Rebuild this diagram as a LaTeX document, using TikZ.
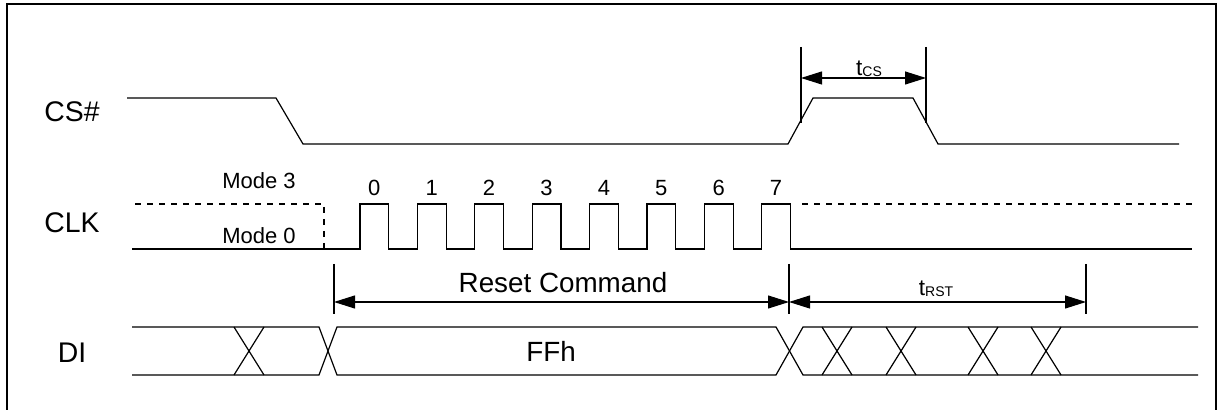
\documentclass[tikz,border=0pt]{standalone}
\usepackage{fontspec}
\setmainfont{Liberation Sans}
\usetikzlibrary{arrows.meta}
\tikzset{
  sig/.style={line width=.6pt,draw=black},
  dimarr/.style={{Triangle[length=10.5pt,width=6.5pt]}-{Triangle[length=10.5pt,width=6.5pt]},line width=.55pt},
  dimtick/.style={line width=.55pt},
  siglabel/.style={font=\fontsize{14.2}{16}\selectfont,inner sep=0},
  small/.style={font=\fontsize{11}{13}\selectfont,inner sep=0},
  cmdlabel/.style={font=\fontsize{13.9}{16}\selectfont,inner sep=0},
  tlabel/.style={font=\fontsize{11.3}{13}\selectfont,inner sep=0}
}
\newcommand{\tsub}[1]{t\raisebox{-0.5pt}{\fontsize{7}{8}\selectfont #1}}

\begin{document}
\begin{tikzpicture}[x=0.5pt,y=-0.5pt]
  \path[use as bounding box] (0,0) rectangle (1224,410);
  \draw[line width=1pt] (7,414) -- (7,4) -- (1216,4) -- (1216,414);

  % CS#
  \node[siglabel] (cs) at (72,112) {CS\#};
  \draw[sig] (127,98) -- (276,98) -- (303,144) -- (788,144) -- (813,98) -- (913,98) -- (938,144) -- (1179,144);
  \coordinate (csL) at (801,78);
  \coordinate (csR) at (926,78);
  \draw[dimtick] (csL) ++(0,-31) -- ++(0,76);
  \draw[dimtick] (csR) ++(0,-31) -- ++(0,76);
  \draw[dimarr] (csL) -- (csR);
  \node[tlabel] (tcs) at (869,69) {\tsub{CS}};

  % CLK
  \node[siglabel] (clk) at (72,223) {CLK};
  \node[small] (mode3) at (259,181) {Mode 3};
  \node[small] (mode0) at (259,236) {Mode 0};
  \draw[sig,dashed] (135,204) -- (324,204) -- (324,249);
  \draw[sig,dashed] (802,204) -- (1192,204);
  \draw[sig] (132,249) \foreach \k in {0,...,7} { -- ({360+57.4*\k},249) -- ++(0,-45) -- ++(28.7,0) -- ++(0,45) } -- (1192,249);
  \foreach \k in {0,...,7} \node[small] (bit\k) at ({374.3+57.4*\k},188) {\k};

  % command / reset timing
  \coordinate (cmdL) at (334,302);
  \coordinate (cmdR) at (789,302);
  \coordinate (rstR) at (1086,302);
  \foreach \c in {cmdL,cmdR,rstR} \draw[dimtick] (\c) ++(0,-38) -- ++(0,50);
  \draw[dimarr] (cmdL) -- (cmdR);
  \draw[dimarr] (cmdR) -- (rstR);
  \node[cmdlabel] (cmd) at (563,283) {Reset Command};
  \node[tlabel] (trst) at (936,289) {\tsub{RST}};

  % DI
  \node[siglabel] (di) at (72,353) {DI};
  \draw[sig] (132,327) -- (319,327) -- (337,375) -- (776,375) -- (803,327) -- (1198,327);
  \draw[sig] (132,375) -- (319,375) -- (337,327) -- (776,327) -- (803,375) -- (1198,375);
  \foreach \x in {249,837,901,983,1046} \draw[sig] (\x-15,327) -- (\x+15,375) (\x-15,375) -- (\x+15,327);
  \node[cmdlabel] (ffh) at (551,351) {FFh};
\end{tikzpicture}
\end{document}
